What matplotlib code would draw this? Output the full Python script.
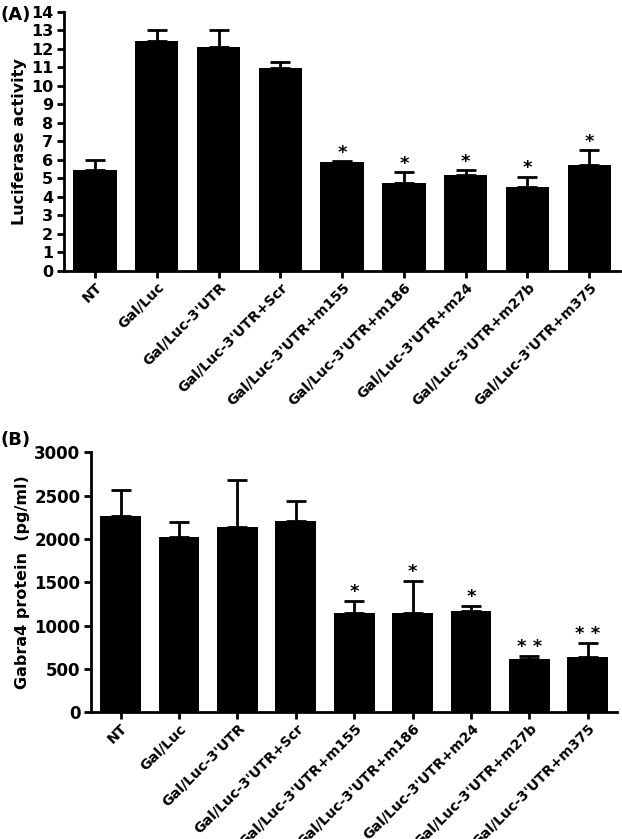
import matplotlib.pyplot as plt
import matplotlib.transforms as mtransforms
import numpy as np

plt.rcParams['font.family'] = ['DejaVu Sans']
plt.rcParams['font.weight'] = 'bold'

groups = ['NT', 'Gal/Luc', "Gal/Luc-3'UTR", "Gal/Luc-3'UTR+Scr",
          "Gal/Luc-3'UTR+m155", "Gal/Luc-3'UTR+m186", "Gal/Luc-3'UTR+m24",
          "Gal/Luc-3'UTR+m27b", "Gal/Luc-3'UTR+m375"]

# (A) luciferase activity
luc_mean = [5.45, 12.4, 12.1, 10.95, 5.9, 4.75, 5.2, 4.55, 5.7]
luc_err = [0.57, 0.6, 0.93, 0.33, 0.05, 0.58, 0.25, 0.55, 0.85]
luc_sig = ['', '', '', '', '*', '*', '*', '*', '*']

# (B) Gabra4 protein
gab_mean = [2270, 2020, 2140, 2210, 1140, 1140, 1170, 620, 640]
gab_err = [300, 170, 540, 230, 140, 370, 60, 35, 165]
gab_sig = ['', '', '', '', '*', '*', '*', '* *', '* *']

fig = plt.figure(figsize=(6.22, 8.39), dpi=100)
axA = fig.add_axes([0.103, 0.677, 0.894, 0.309])
axB = fig.add_axes([0.147, 0.151, 0.845, 0.310])


def draw(ax, mean, err, sig, ymax, step, ylabel, star_off, tick_fs):
    x = np.arange(len(groups))
    ax.bar(x, mean, width=0.7, color='black',
           yerr=[np.zeros(len(mean)), err], capsize=7.5,
           error_kw=dict(elinewidth=2, capthick=2, ecolor='black'))
    for xi, m, e, s in zip(x, mean, err, sig):
        if s:
            ax.text(xi, m + e + star_off, s, ha='center', va='bottom',
                    fontsize=13, fontweight='bold')
    ax.set_xlim(-0.5, 8.5)
    ax.set_ylim(0, ymax)
    ax.set_yticks(np.arange(0, ymax + step / 2, step))
    ax.set_xticks(x)
    ax.set_xticklabels(groups, rotation=45, ha='right', rotation_mode='anchor',
                       fontsize=10.2, fontweight='bold')
    # nudge rotated labels a little left, like the original
    shift = mtransforms.ScaledTranslation(-3 / 72, 0, fig.dpi_scale_trans)
    for lbl in ax.get_xticklabels():
        lbl.set_transform(lbl.get_transform() + shift)
    ax.set_ylabel(ylabel, fontsize=11.5, fontweight='bold', labelpad=3)
    for side in ['top', 'right']:
        ax.spines[side].set_visible(False)
    for side in ['left', 'bottom']:
        ax.spines[side].set_linewidth(2)
    ax.tick_params(width=2, length=5, pad=3)
    ax.tick_params(axis='x', pad=1.5)
    ax.tick_params(axis='y', labelsize=tick_fs)
    for lbl in ax.get_yticklabels():
        lbl.set_fontweight('bold')


draw(axA, luc_mean, luc_err, luc_sig, 14, 1, 'Luciferase activity', -0.05, 11.5)
draw(axB, gab_mean, gab_err, gab_sig, 3000, 500, 'Gabra4 protein  (pg/ml)', 0, 12)

fig.text(0.0, 0.993, '(A)', ha='left', va='top', fontsize=13, fontweight='bold')
fig.text(0.0, 0.465, '(B)', ha='left', va='bottom', fontsize=13, fontweight='bold')

fig.savefig('out.png', dpi=100)
